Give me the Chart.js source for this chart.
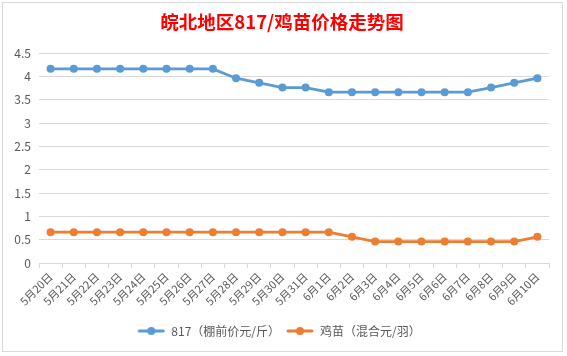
<!DOCTYPE html>
<html>
<head>
<meta charset="utf-8">
<script src="https://cdn.jsdelivr.net/npm/chart.js@4/dist/chart.umd.min.js"></script>
<style>
  html, body { margin: 0; padding: 0; background: #fff; }
  #wrap { position: relative; width: 567px; height: 356px; overflow: hidden; }
  #frame { position: absolute; left: 2px; top: 2px; width: 561px; height: 350px; border: 1px solid #d9d9d9; pointer-events: none; box-sizing: border-box; }
  canvas { position: absolute; left: 0; top: 0; }
</style>
</head>
<body>
<div id="wrap">
  <canvas id="c" width="567" height="356"></canvas>
  <div id="frame"></div>
</div>
<script>
const categories = ['5月20日','5月21日','5月22日','5月23日','5月24日','5月25日','5月26日','5月27日','5月28日','5月29日','5月30日','5月31日','6月1日','6月2日','6月3日','6月4日','6月5日','6月6日','6月7日','6月8日','6月9日','6月10日'];
const series817 = [4.16,4.16,4.16,4.16,4.16,4.16,4.16,4.16,3.96,3.86,3.76,3.76,3.66,3.66,3.66,3.66,3.66,3.66,3.66,3.76,3.86,3.96];
const seriesChick = [0.66,0.66,0.66,0.66,0.66,0.66,0.66,0.66,0.66,0.66,0.66,0.66,0.66,0.56,0.46,0.46,0.46,0.46,0.46,0.46,0.46,0.56];
const seriesNames = ['817（棚前价元/斤）','鸡苗（混合元/羽）'];
const yMin = 0, yMax = 4.5, yStep = 0.5;
const titleText = '皖北地区817/鸡苗价格走势图';

const BLUE = '#5B9BD5', ORANGE = '#ED7D31';
const FONT = '"Noto Sans CJK SC", "Noto Sans", sans-serif';

function legendMarker(color) {
  const cv = document.createElement('canvas');
  cv.width = 28; cv.height = 10;
  const g = cv.getContext('2d');
  g.strokeStyle = color; g.lineWidth = 3; g.lineCap = 'round';
  g.beginPath(); g.moveTo(2, 5); g.lineTo(26, 5); g.stroke();
  g.fillStyle = color;
  g.beginPath(); g.arc(14, 5, 4, 0, Math.PI * 2); g.fill();
  return cv;
}
const markers = [legendMarker(BLUE), legendMarker(ORANGE)];

const titlePlugin = {
  id: 'offsetTitle',
  afterDraw(chart) {
    const ctx = chart.ctx;
    ctx.save();
    ctx.font = 'bold 18.5px ' + FONT;
    ctx.fillStyle = '#FF0000';
    ctx.textAlign = 'center';
    ctx.textBaseline = 'middle';
    ctx.fillText(titleText, 282, 22);
    ctx.restore();
  }
};

new Chart(document.getElementById('c'), {
  type: 'line',
  data: {
    labels: categories,
    datasets: [
      { label: seriesNames[0], data: series817, borderColor: BLUE, backgroundColor: BLUE, borderWidth: 2.75, pointRadius: 4, pointHoverRadius: 4, pointBorderWidth: 0, tension: 0 },
      { label: seriesNames[1], data: seriesChick, borderColor: ORANGE, backgroundColor: ORANGE, borderWidth: 2.75, pointRadius: 4, pointHoverRadius: 4, pointBorderWidth: 0, tension: 0 }
    ]
  },
  plugins: [titlePlugin],
  options: {
    responsive: false,
    animation: false,
    devicePixelRatio: 1,
    layout: { padding: { left: 9, right: 18, top: 53, bottom: 9 } },
    plugins: {
      tooltip: { enabled: false },
      title: { display: false },
      legend: {
        position: 'bottom',
        labels: {
          color: '#595959',
          font: { family: FONT, size: 12 },
          usePointStyle: true,
          pointStyleWidth: 28,
          boxHeight: 10,
          padding: 6,
          generateLabels(chart) {
            return chart.data.datasets.map((ds, i) => ({
              text: ds.label, fillStyle: ds.borderColor, strokeStyle: ds.borderColor,
              pointStyle: markers[i], datasetIndex: i, hidden: false, lineWidth: 0, fontColor: '#595959'
            }));
          }
        }
      }
    },
    scales: {
      x: {
        offset: true,
        grid: { display: true, drawOnChartArea: false, offset: true, color: '#d9d9d9', tickLength: 5, tickColor: '#d9d9d9' },
        border: { color: '#d9d9d9' },
        ticks: { color: '#595959', font: { family: FONT, size: 11 }, minRotation: 45, maxRotation: 45, autoSkip: false, padding: 2 },
        afterFit(s) { s.height = 56; }
      },
      y: {
        min: yMin, max: yMax,
        grid: { color: '#d9d9d9', drawTicks: false },
        border: { display: false },
        ticks: { stepSize: yStep, color: '#595959', font: { family: FONT, size: 12 }, padding: 8,
          callback: v => String(Math.round(v * 10) / 10) },
        afterFit(s) { s.width = 30; }
      }
    }
  }
});
</script>
</body>
</html>
